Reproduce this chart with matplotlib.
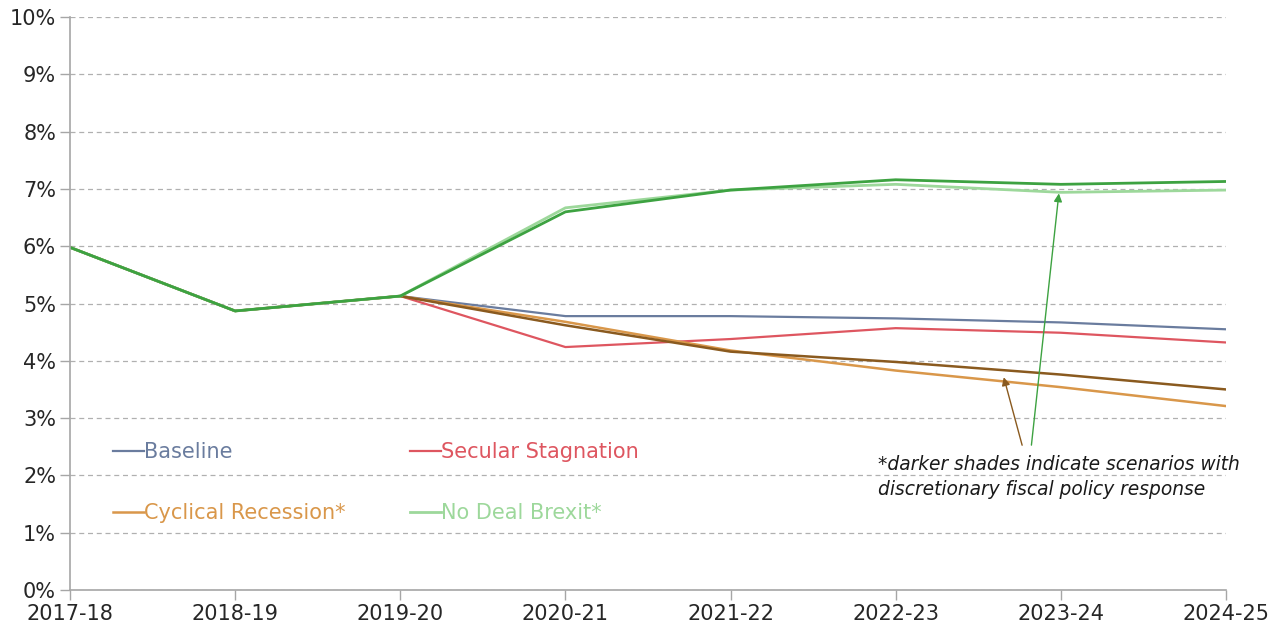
import matplotlib.pyplot as plt
from matplotlib.ticker import FuncFormatter

years = ['2017-18', '2018-19', '2019-20', '2020-21', '2021-22', '2022-23', '2023-24', '2024-25']

baseline = [5.98, 4.87, 5.13, 4.78, 4.78, 4.74, 4.67, 4.55]
secular = [5.98, 4.87, 5.13, 4.24, 4.38, 4.57, 4.49, 4.32]
cyclical = [5.98, 4.87, 5.13, 4.68, 4.18, 3.83, 3.54, 3.21]
cyclical_fiscal = [5.98, 4.87, 5.13, 4.62, 4.16, 3.98, 3.76, 3.50]
nodeal = [5.98, 4.87, 5.13, 6.67, 6.98, 7.08, 6.94, 6.98]
nodeal_fiscal = [5.98, 4.87, 5.13, 6.60, 6.98, 7.16, 7.08, 7.13]

note = '*darker shades indicate scenarios with\ndiscretionary fiscal policy response'

c_base = '#6A7C9E'
c_sec = '#DE5660'
c_cyc = '#D9974A'
c_cyc_dark = '#8A5A1F'
c_nd = '#9DD89B'
c_nd_dark = '#3DA241'

plt.rcParams['font.family'] = ['DejaVu Sans']

fig = plt.figure(figsize=(12.82, 6.31), dpi=100)
ax = fig.add_axes([0.0546, 0.065, 0.9017, 0.908])

x = list(range(len(years)))
l_base, = ax.plot(x, baseline, color=c_base, lw=1.6, label='Baseline')
l_sec, = ax.plot(x, secular, color=c_sec, lw=1.6, label='Secular Stagnation')
l_cyc, = ax.plot(x, cyclical, color=c_cyc, lw=1.8, label='Cyclical Recession*')
ax.plot(x, cyclical_fiscal, color=c_cyc_dark, lw=1.8)
l_nd, = ax.plot(x, nodeal, color=c_nd, lw=2.0, label='No Deal Brexit*')
ax.plot(x, nodeal_fiscal, color=c_nd_dark, lw=2.0)

ax.set_xlim(0, len(years) - 1)
ax.set_ylim(0, 10)
ax.set_xticks(x)
ax.set_xticklabels(years)
ax.set_yticks(range(0, 11))
ax.yaxis.set_major_formatter(FuncFormatter(lambda v, p: '%d%%' % v))
ax.tick_params(axis='both', labelsize=15, colors='#A6A6A6', labelcolor='#262626',
               length=7, width=1)
ax.tick_params(axis='x', pad=3)
ax.tick_params(axis='y', pad=3)

ax.grid(axis='y', color='#B0B0B0', linestyle=(0, (4, 3)), lw=0.9)
ax.set_axisbelow(True)
for s in ['top', 'right']:
    ax.spines[s].set_visible(False)
for s in ['left', 'bottom']:
    ax.spines[s].set_color('#A6A6A6')
    ax.spines[s].set_linewidth(1.2)

leg = ax.legend(handles=[l_base, l_cyc, l_sec, l_nd], ncol=2, loc='lower left',
                bbox_to_anchor=(0.021, 0.084), frameon=False, fontsize=15,
                handlelength=1.5, handletextpad=0.0, columnspacing=3.08,
                labelspacing=1.98, labelcolor='linecolor')

ax.annotate('', xy=(5.65, 3.76), xytext=(5.77, 2.48),
            arrowprops=dict(arrowstyle='-|>', color=c_cyc_dark, lw=1, mutation_scale=12))
ax.annotate('', xy=(5.99, 6.97), xytext=(5.82, 2.48),
            arrowprops=dict(arrowstyle='-|>', color=c_nd_dark, lw=1, mutation_scale=12))
ax.text(4.89, 1.97, note, fontsize=13.4, style='italic', color='#1A1A1A',
        ha='left', va='center', linespacing=1.38)

fig.savefig('out.png', dpi=100)
